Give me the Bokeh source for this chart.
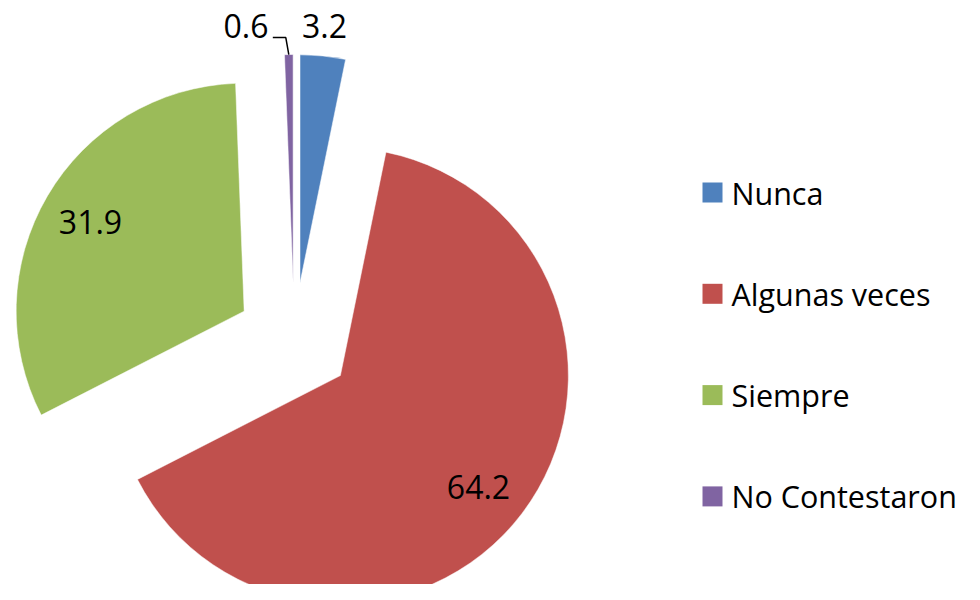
import math
from bokeh.plotting import figure
from bokeh.models import Range1d, ColumnDataSource
from bokeh.core.properties import value
from bokeh.embed import file_html
from bokeh.resources import INLINE

# ---- data ----
categories = ["Nunca", "Algunas veces", "Siempre", "No Contestaron"]
values = [3.2, 64.2, 31.9, 0.6]
labels = ["3.2", "64.2", "31.9", "0.6"]
colors = ["#4F81BD", "#C0504D", "#9BBB59", "#8064A2"]

# ---- layout (reference pixel space, y flipped) ----
W, H = 964, 584
FONT = "Open Sans"
FS = "32px"
LEG_FS = "30.5px"

p = figure(width=W, height=H, output_backend="svg", toolbar_location=None,
           x_range=Range1d(0, W), y_range=Range1d(600 - H, 600),
           min_border=0, outline_line_color=None)
p.axis.visible = False
p.grid.visible = False
p.background_fill_color = "white"
p.border_fill_color = "white"


def Y(ys):
    return 600 - ys


cx, cy = 293.7, Y(340)
R = 228
EXPL = 58

total = sum(values)
cum = 0.0
apex = []
mids = []
starts, ends, xs, ys = [], [], [], []
for v in values:
    s_cw = cum / total * 360
    cum += v
    e_cw = cum / total * 360
    a1 = math.radians(90 - e_cw)
    a2 = math.radians(90 - s_cw)
    m = (a1 + a2) / 2
    ax = cx + EXPL * math.cos(m)
    ay = cy + EXPL * math.sin(m)
    xs.append(ax); ys.append(ay); starts.append(a1); ends.append(a2)
    apex.append((ax, ay)); mids.append(m)

src = ColumnDataSource(dict(x=xs, y=ys, s=starts, e=ends, c=colors, cat=categories))
p.wedge(x="x", y="y", radius=R, start_angle="s", end_angle="e", direction="anticlock",
        fill_color="c", line_color="white", line_width=0.5, source=src)

# ---- data labels ----
lab_x, lab_y, lab_t, lab_align = [], [], [], []
for i, lab in enumerate(labels):
    if i == 1:  # Algunas veces
        lab_x.append(478); lab_y.append(Y(486)); lab_align.append("center")
    elif i == 2:  # Siempre
        lab_x.append(90); lab_y.append(Y(221)); lab_align.append("center")
    elif i == 0:  # Nunca, outside top
        lab_x.append(324); lab_y.append(Y(25)); lab_align.append("center")
    else:  # No Contestaron, outside with leader
        lab_x.append(268); lab_y.append(Y(25)); lab_align.append("right")
    lab_t.append(lab)

p.text(x=lab_x, y=lab_y, text=lab_t, text_align=lab_align, text_baseline="middle",
       text_font=value(FONT), text_font_size=FS, text_color="black")

# leader line for the small slice
ax, ay = apex[3]
ox = ax + R * math.cos(mids[3])
oy = ay + R * math.sin(mids[3])
p.line(x=[ox - 16, ox - 3, ox], y=[oy + 17, oy + 17, oy], line_color="black", line_width=1.5)

# ---- legend ----
leg_y = [Y(192 + 101.3 * i) for i in range(len(categories))]
p.rect(x=[712] * len(categories), y=leg_y, width=20, height=20, fill_color=colors, line_color=None)
p.text(x=[731] * len(categories), y=leg_y, text=categories, text_align="left", text_baseline="middle",
       text_font=value(FONT), text_font_size=LEG_FS, text_color="black")

open("out.html", "w").write(file_html(p, INLINE))
